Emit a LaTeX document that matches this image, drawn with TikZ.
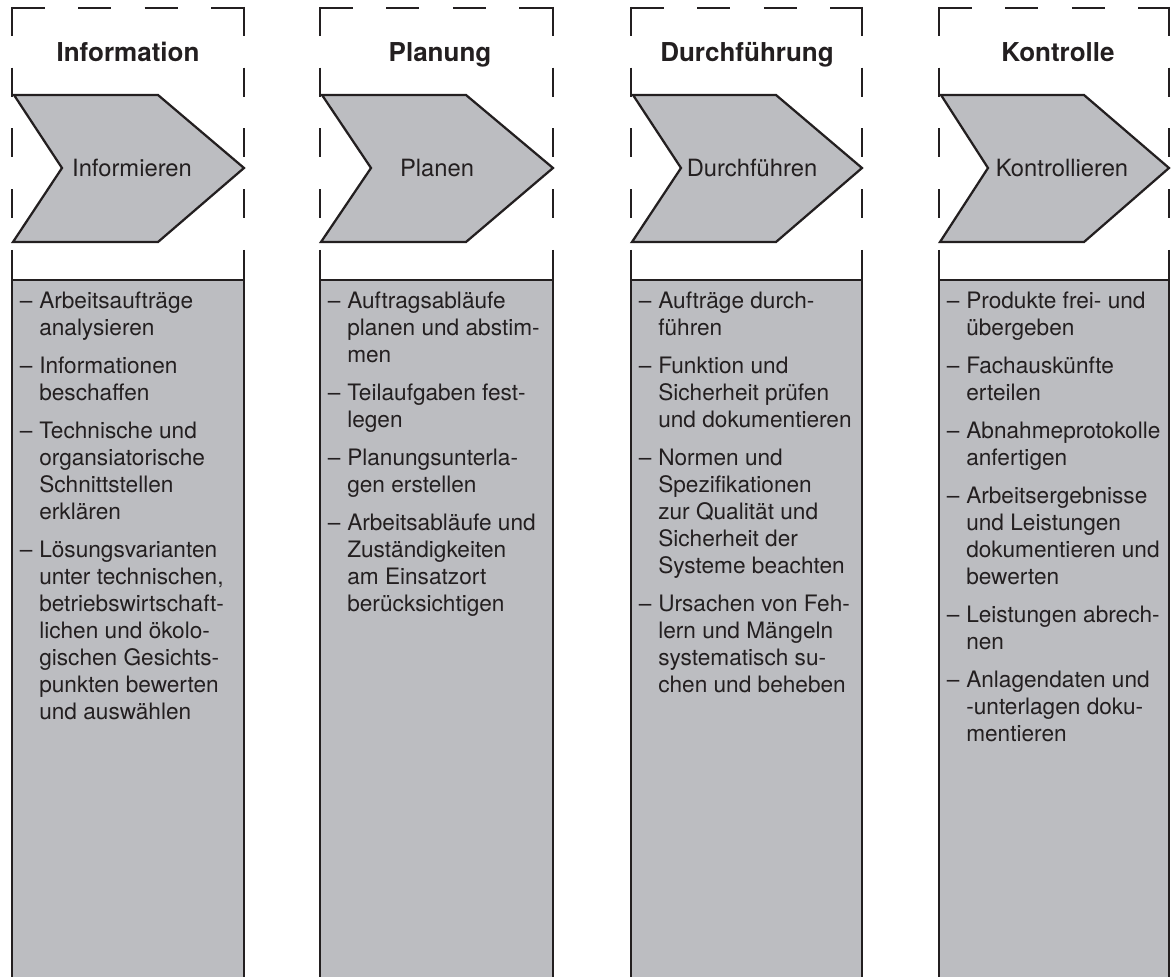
\documentclass[tikz,border=0pt]{standalone}
\usepackage{fontspec}
\setmainfont{TeX Gyre Heros}
\usepackage{tikz}
\usetikzlibrary{positioning}
\definecolor{ink}{RGB}{35,31,32}
\definecolor{panelgray}{RGB}{188,189,193}
\newcommand{\itm}{\strut\llap{–\hspace{0.3em}}}
\tikzset{
  dashframe/.style={draw=ink, line width=1.6pt},
  topdash/.style={dashframe, dash pattern=on 23.5pt off 23.7pt},
  sidedash/.style={dashframe, dash pattern=on 20.6pt off 22.6pt},
  chevron/.style={draw=ink, fill=panelgray, line width=1.6pt},
  panel/.style={draw=ink, fill=panelgray, line width=1.9pt},
  phase/.style={font=\fontsize{18.5}{22}\selectfont\bfseries, text=ink, inner sep=0pt, anchor=base},
  stepname/.style={font=\fontsize{16.9}{20}\selectfont, text=ink, inner sep=0pt, anchor=base},
  tasklist/.style={font=\fontsize{16.1}{19.2}\selectfont, text=ink, align=left, inner sep=0pt, anchor=north west},
}

\begin{document}
\begin{tikzpicture}[x=0.025cm, y=-0.025cm]
  \useasboundingbox (0,0) rectangle (1171,977);

  % dashed frames
  \draw[topdash] (12,8) -- (244,8);
  \draw[sidedash] (12,7) -- (12,280);
  \draw[sidedash] (244,7) -- (244,280);
  \draw[topdash] (320,8) -- (553,8);
  \draw[sidedash] (320,7) -- (320,280);
  \draw[sidedash] (553,7) -- (553,280);
  \draw[topdash] (631,8) -- (862,8);
  \draw[sidedash] (631,7) -- (631,280);
  \draw[sidedash] (862,7) -- (862,280);
  \draw[topdash] (939,8) -- (1169,8);
  \draw[sidedash] (939,7) -- (939,280);
  \draw[sidedash] (1169,7) -- (1169,280);

  % chevrons
  \draw[chevron] (14,95) -- (158,95) -- (244,168) -- (158,242) -- (13,242) -- (62,168) -- cycle;
  \draw[chevron] (322,95) -- (466,95) -- (553,168) -- (466,242) -- (321,242) -- (371,168) -- cycle;
  \draw[chevron] (633,95) -- (776,95) -- (862,168) -- (776,242) -- (632,242) -- (681,168) -- cycle;
  \draw[chevron] (941,95) -- (1084,95) -- (1169,168) -- (1084,242) -- (940,242) -- (988,168) -- cycle;

  % grey panels
  \draw[panel] (12,990) -- (12,280) -- (244,280) -- (244,990);
  \draw[panel] (320,990) -- (320,280) -- (553,280) -- (553,990);
  \draw[panel] (631,990) -- (631,280) -- (862,280) -- (862,990);
  \draw[panel] (939,990) -- (939,280) -- (1169,280) -- (1169,990);

  \node[phase] (phase1) at (128,62) {Information};
  \node[phase] (phase2) at (440,62) {Planung};
  \node[phase] (phase3) at (747,62) {Durchführung};
  \node[phase] (phase4) at (1058,62) {Kontrolle};

  \node[stepname] (step1) at (132,177) {Informieren};
  \node[stepname] (step2) at (437,177) {Planen};
  \node[stepname] (step3) at (752,177) {Durchführen};
  \node[stepname] (step4) at (1062,177) {Kontrollieren};

  \node[tasklist] (tasks1) at (39,289) {\itm Arbeitsaufträge\\analysieren\\[7.8pt]
    \itm Informationen\\beschaffen\\[7.8pt]
    \itm Technische und\\organsiatorische\\Schnittstellen\\erklären\\[7.8pt]
    \itm Lösungsvarianten\\unter technischen,\\betriebswirtschaft-\\lichen und ökolo-\\gischen Gesichts-\\punkten bewerten\\und auswählen};
  \node[tasklist] (tasks2) at (347,289) {\itm Auftragsabläufe\\planen und abstim-\\men\\[7.8pt]
    \itm Teilaufgaben fest-\\legen\\[7.8pt]
    \itm Planungsunterla-\\gen erstellen\\[7.8pt]
    \itm Arbeitsabläufe und\\Zuständigkeiten\\am Einsatzort\\berücksichtigen};
  \node[tasklist] (tasks3) at (658,289) {\itm Aufträge durch-\\führen\\[7.8pt]
    \itm Funktion und\\Sicherheit prüfen\\und dokumentieren\\[7.8pt]
    \itm Normen und\\Spezifikationen\\zur Qualität und\\Sicherheit der\\Systeme beachten\\[7.8pt]
    \itm Ursachen von Feh-\\lern und Mängeln\\systematisch su-\\chen und beheben};
  \node[tasklist] (tasks4) at (966,289) {\itm Produkte frei- und\\übergeben\\[7.8pt]
    \itm Fachauskünfte\\erteilen\\[7.8pt]
    \itm Abnahmeprotokolle\\anfertigen\\[7.8pt]
    \itm Arbeitsergebnisse\\und Leistungen\\dokumentieren und\\bewerten\\[7.8pt]
    \itm Leistungen abrech-\\nen\\[7.8pt]
    \itm Anlagendaten und\\-unterlagen doku-\\mentieren};

\end{tikzpicture}
\end{document}
